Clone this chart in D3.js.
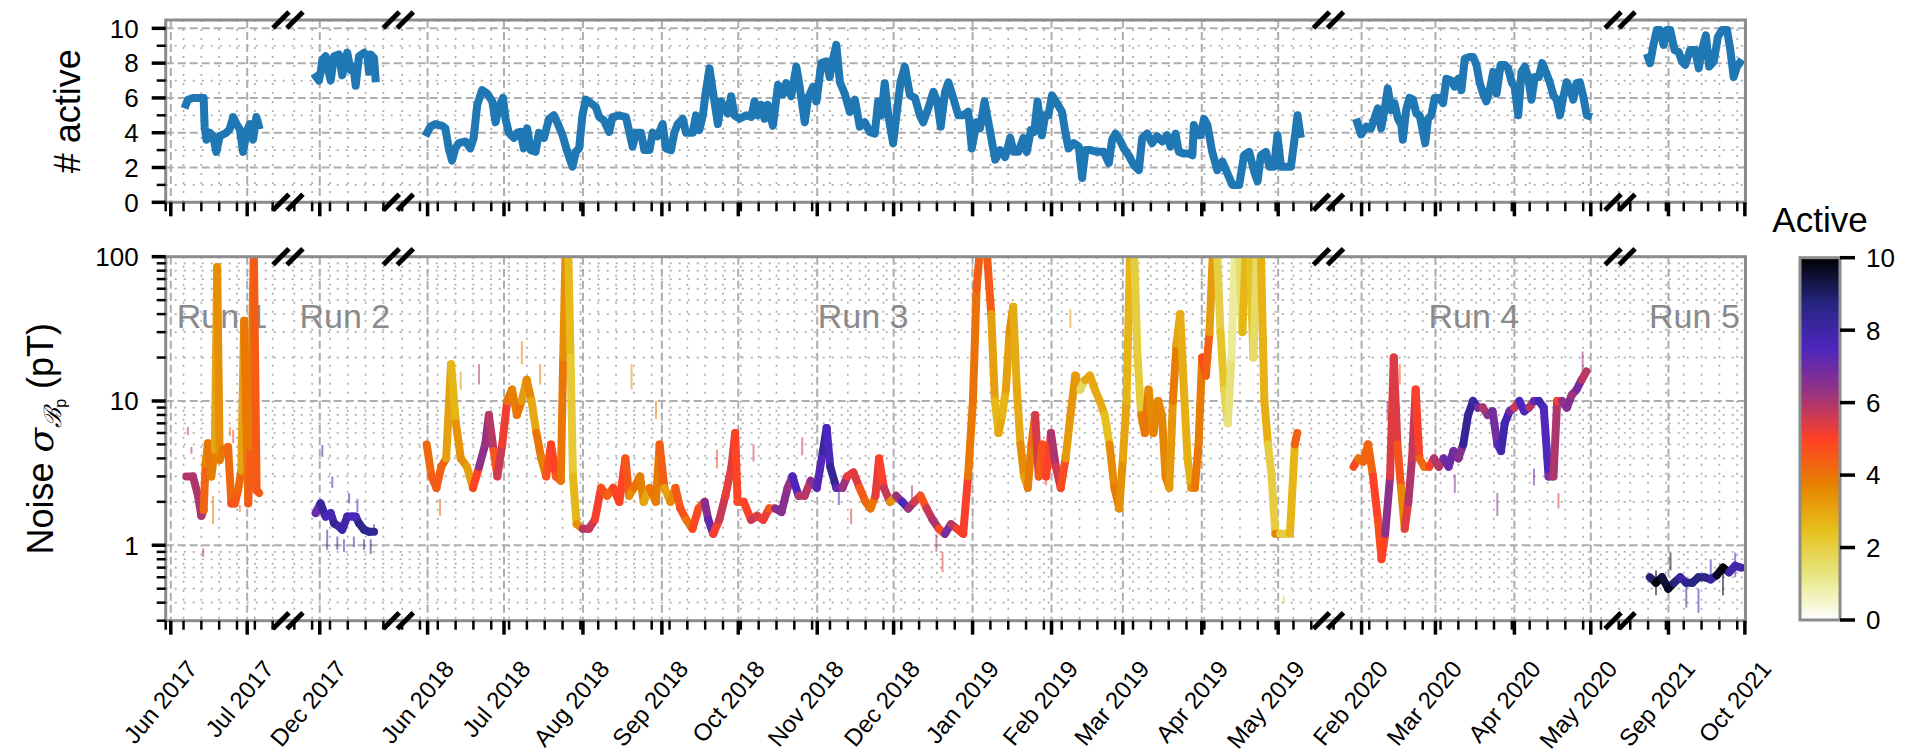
<!DOCTYPE html>
<html><head><meta charset="utf-8">
<script src="https://cdn.jsdelivr.net/npm/d3@7"></script>
<style>
body{margin:0;background:#fff;}
svg text{font-family:"Liberation Sans", Arial, sans-serif;fill:#000;}
</style></head><body>
<svg id="chart" width="1907" height="753"></svg>
<script>
// Measurement campaigns and the calendar window kept for each one on the broken time axis
const runNames = ["Run 1", "Run 2", "Run 3", "Run 4", "Run 5"];
const windowStart = ["2017-05-30T00:00", "2017-11-18T12:00", "2018-05-20T12:00", "2020-01-19T00:00", "2021-08-13T00:00"];
const windowEnd   = ["2017-07-17T00:00", "2017-12-31T20:00", "2019-05-20T18:00", "2020-05-12T12:00", "2021-10-01T06:00"];
// Day offsets in every series below are counted from these dates
const runRef = ["2017-06-01", "2017-12-01", "2018-06-01", "2020-02-01", "2021-09-01"];

// Number of active sensors: [days since run reference, count]
const activeRun1 = [[5.4,5.4],[6.7,5.9],[8.7,6.0],[11.3,6.0],[12.9,6.0],[13.3,4.3],[14.0,3.6],[15.3,4.0],[16.6,3.8],[17.9,2.9],[19.2,3.8],[20.5,3.9],[21.8,4.0],[23.1,4.2],[24.5,4.9],[25.8,4.5],[27.1,4.2],[28.4,2.9],[29.7,4.0],[31.0,4.5],[32.3,3.6],[33.6,4.9],[34.9,4.2]];
const activeRun2 = [[-2.3,7.4],[-1.3,7.2],[-0.3,7.0],[0.5,7.6],[1.0,8.2],[2.3,8.4],[3.3,7.6],[4.3,7.0],[5.6,8.4],[7.5,8.5],[8.8,7.3],[10.0,8.0],[10.8,8.6],[12.1,7.6],[13.2,7.8],[14.1,6.7],[15.4,8.4],[17.4,8.6],[18.7,8.4],[19.3,7.5],[20.0,8.5],[21.3,8.3],[22.0,6.9]];
const activeRun3 = [[-0.9,3.8],[1.1,4.35],[3.1,4.5],[5.7,4.4],[7.0,4.25],[8.3,3.1],[9.6,2.4],[10.9,3.1],[12.2,3.4],[14.9,3.5],[16.8,3.1],[18.1,3.7],[19.5,5.6],[21.4,6.45],[23.4,6.25],[25.4,5.8],[26.7,4.6],[28.0,5.5],[29.6,6.0],[30.6,4.8],[31.9,4.0],[33.9,3.7],[35.2,4.0],[36.5,4.05],[37.8,3.1],[39.1,4.25],[40.5,3.0],[42.4,2.9],[43.7,4.0],[45.7,3.7],[47.7,4.8],[49.6,5.0],[50.9,4.6],[52.9,3.9],[54.9,2.9],[56.9,2.05],[58.2,2.9],[59.5,3.1],[60.8,5.0],[62.1,5.9],[64.1,5.7],[66.0,5.5],[67.4,4.9],[69.3,4.7],[71.3,4.05],[72.6,4.9],[75.2,5.0],[77.9,4.9],[79.2,4.05],[80.5,3.2],[81.8,4.0],[83.8,4.0],[85.1,3.0],[87.1,3.0],[88.4,4.0],[90.3,3.8],[92.3,4.5],[93.6,3.1],[95.6,3.0],[96.9,4.0],[98.2,4.5],[100.2,4.8],[101.5,4.0],[104.1,4.0],[105.4,5.0],[106.7,4.15],[108.1,5.0],[109.1,6.2],[110.7,7.7],[112.0,6.4],[114.0,4.5],[115.3,5.8],[116.6,5.4],[117.9,5.1],[119.2,6.1],[120.5,5.0],[122.5,4.8],[125.1,5.0],[127.1,4.9],[128.4,5.8],[129.7,5.0],[131.0,5.6],[132.3,4.8],[133.6,5.6],[135.6,4.4],[137.6,6.75],[139.5,6.2],[140.8,6.85],[142.8,6.1],[144.8,7.8],[146.1,6.65],[148.1,4.6],[149.4,6.0],[151.4,6.65],[152.7,5.8],[154.6,8.0],[156.6,8.1],[157.9,7.2],[159.3,8.3],[160.5,9.05],[161.9,6.9],[163.8,6.25],[165.8,5.2],[167.8,5.9],[169.7,4.35],[171.7,4.6],[173.6,4.05],[175.6,3.95],[176.9,5.8],[178.2,5.0],[179.5,6.85],[180.9,5.0],[182.8,3.4],[184.1,5.0],[185.7,6.9],[187.4,7.8],[189.4,6.15],[191.4,6.0],[193.3,5.0],[194.6,4.6],[196.6,5.4],[198.6,6.35],[200.1,5.8],[201.5,4.35],[203.2,6.35],[204.5,6.9],[206.4,6.0],[208.4,5.0],[210.4,5.0],[212.3,5.2],[213.7,3.1],[215.6,4.6],[216.9,4.25],[218.7,5.8],[220.9,4.05],[222.9,2.45],[224.8,3.0],[226.8,2.6],[228.8,3.7],[230.1,2.9],[232.0,2.9],[234.0,3.7],[235.3,2.9],[236.9,4.15],[238.2,4.05],[239.5,5.8],[241.2,3.85],[242.5,5.0],[243.8,5.0],[245.2,6.15],[247.1,5.7],[249.1,5.2],[250.4,4.05],[251.7,3.1],[253.7,3.4],[255.7,3.2],[257.0,1.4],[258.3,3.0],[260.3,3.0],[262.9,2.9],[265.5,2.9],[267.5,2.25],[268.8,3.6],[270.1,3.95],[271.4,3.7],[273.4,3.1],[275.3,2.7],[277.3,2.15],[279.3,1.85],[280.6,3.7],[282.6,3.95],[284.5,3.4],[286.5,3.8],[288.5,3.5],[290.4,3.85],[291.7,3.2],[293.7,3.95],[295.0,2.9],[297.0,2.8],[299.0,2.8],[300.3,2.7],[300.9,4.45],[302.2,3.85],[303.6,3.85],[304.9,4.8],[306.2,4.45],[308.1,2.9],[310.1,1.85],[312.1,2.35],[314.1,1.65],[316.0,1.0],[318.7,1.0],[320.6,2.7],[322.6,2.9],[324.6,1.75],[325.9,1.2],[327.2,2.7],[329.2,2.9],[330.5,2.05],[332.4,2.05],[333.7,3.85],[335.1,2.05],[336.4,2.05],[339.0,2.05],[340.3,3.5],[341.6,5.0],[342.9,3.7]];
const activeRun4 = [[-2.2,4.8],[-0.2,3.9],[1.8,4.35],[3.7,4.25],[5.0,4.8],[6.4,5.4],[7.7,4.25],[9.0,5.3],[10.3,6.55],[11.6,5.3],[12.9,5.7],[14.3,4.8],[15.6,4.45],[16.2,3.6],[17.5,5.3],[18.8,6.0],[20.2,5.9],[21.5,5.1],[22.8,5.0],[24.1,4.05],[25.0,3.4],[26.1,4.8],[27.4,5.0],[28.7,6.0],[30.6,6.0],[32.0,5.7],[33.3,7.1],[35.2,7.0],[36.5,6.65],[37.9,7.1],[39.2,6.45],[40.5,8.25],[42.4,8.35],[43.8,8.35],[45.1,7.9],[46.4,6.85],[47.7,6.25],[49.0,5.8],[50.3,6.45],[51.7,7.5],[53.0,6.25],[54.6,7.9],[56.2,7.9],[57.5,7.7],[59.1,6.85],[60.1,6.65],[61.5,5.0],[62.8,7.5],[64.1,7.8],[65.4,7.2],[66.7,5.9],[68.0,7.2],[69.6,7.2],[70.9,8.0],[72.6,7.4],[73.9,6.9],[75.3,6.15],[76.6,5.9],[77.9,5.0],[79.2,6.05],[80.5,6.9],[81.8,6.55],[83.1,5.9],[84.4,6.85],[85.7,6.9],[87.1,6.05],[88.4,5.0],[90.4,4.9]];
const activeRun5 = [[-8.5,8.55],[-7.2,8.0],[-5.9,9.05],[-4.6,9.9],[-3.3,9.9],[-1.9,9.05],[-0.6,9.9],[0.7,9.9],[2.4,8.75],[4.0,8.65],[5.3,8.1],[6.6,7.9],[8.5,8.75],[10.5,8.75],[11.9,7.7],[13.1,8.75],[14.7,9.6],[16.0,7.8],[17.8,8.1],[19.4,9.5],[21.0,9.9],[23.0,9.9],[24.3,8.75],[25.6,7.2],[26.9,7.8],[28.9,8.2]];

// Smoothed noise level in pT: [days since run reference, value]
const noiseRun1 = [[6.1,3.0],[8.7,3.0],[10.7,2.2],[12.0,1.6],[12.9,1.75],[13.7,3.7],[14.6,5.1],[15.9,3.0],[17.3,4.6],[18.2,85],[19.2,3.9],[20.5,4.6],[22.5,4.8],[23.8,1.95],[25.1,1.95],[26.4,2.4],[27.7,3.3],[28.8,36],[30.4,1.95],[31.3,4.8],[32.6,120],[33.7,2.4],[34.7,2.3]];
const noiseRun2 = [[-1.65,1.67],[0.3,1.95],[2.3,1.58],[4.3,1.67],[5.6,1.42],[7.5,1.35],[8.8,1.28],[10.8,1.58],[12.8,1.58],[14.1,1.58],[15.4,1.42],[17.4,1.28],[19.4,1.24],[21.3,1.24]];
const noiseRun3 = [[-0.36,5],[1.55,3],[3.47,2.5],[5.38,3.5],[7.3,4],[9.21,18],[11.13,7],[13.04,4],[15.44,3.5],[17.83,2.5],[20.23,3.5],[22.62,5],[24.06,8],[25.97,4.5],[27.41,3],[29.32,5],[31.24,10],[33.15,12],[35.07,8],[36.98,10],[38.9,14],[40.81,10],[42.73,6],[44.64,4],[46.56,3],[48.48,5],[50.39,3],[52.31,2.8],[53.26,20],[54.22,120],[55.18,120],[56.14,20],[57.09,3],[58.53,1.4],[60.92,1.3],[63.32,1.3],[65.71,1.5],[68.11,2.5],[70.5,2.2],[72.89,2.5],[75.29,2],[77.68,4],[79.12,2.2],[81.03,2.5],[83.43,3],[84.86,2],[87.26,2.5],[89.65,2],[91.09,5],[93.0,2.5],[95.4,2],[97.31,2.5],[99.23,1.8],[101.62,1.5],[104.02,1.3],[106.41,1.8],[108.8,2],[110.24,1.5],[112.16,1.2],[114.55,1.5],[116.94,2.2],[119.34,3.5],[120.77,6],[121.73,2],[124.13,2],[127.0,1.5],[129.39,1.6],[131.79,1.5],[134.18,1.8],[136.57,1.8],[138.97,1.7],[141.36,2.5],[143.28,3],[145.67,2.2],[148.07,2.2],[150.46,2.8],[152.85,2.5],[155.25,4.5],[156.68,6.5],[158.12,3.5],[160.51,2.5],[162.91,2.5],[164.82,3],[167.22,3.2],[169.61,2.5],[172.01,2],[173.92,1.8],[175.84,2.2],[177.27,4],[179.19,2.5],[181.58,2],[183.98,2.2],[186.37,2],[188.76,1.8],[191.16,2],[193.55,2.2],[195.95,1.8],[198.34,1.5],[200.73,1.3],[203.13,1.2],[205.52,1.4],[207.92,1.3],[210.31,1.2],[212.22,3],[214.14,10],[215.58,60],[217.01,120],[219.41,120],[221.32,40],[222.76,10],[224.19,6],[225.63,8],[227.07,12],[228.5,30],[229.94,45],[231.38,12],[232.81,5],[234.25,3],[235.69,2.5],[237.12,5],[238.56,8],[240.0,3],[241.43,5],[242.87,3],[244.78,6],[246.7,3.5],[248.61,2.5],[250.53,4],[252.44,8],[254.36,15],[256.27,12],[258.19,14],[260.1,15],[262.02,12],[263.94,10],[265.85,8],[267.77,5],[269.68,2.5],[271.6,1.8],[273.03,4],[274.47,10],[275.91,120],[277.34,120],[278.78,20],[280.21,8],[281.65,6],[283.09,12],[285.0,6],[286.92,10],[288.35,8],[289.79,3],[291.23,2.5],[292.66,10],[294.1,25],[295.54,40],[296.97,12],[298.41,4],[299.85,2.5],[301.28,2.5],[302.72,5],[304.15,20],[305.59,15],[307.03,30],[308.46,120],[309.9,120],[311.34,30],[312.77,12],[314.21,7],[315.65,20],[317.08,120],[318.52,120],[319.95,30],[321.39,120],[322.83,120],[324.26,20],[325.7,120],[327.14,120],[328.57,10],[330.01,5],[331.45,3],[332.88,1.2],[334.8,1.2],[336.71,1.2],[338.63,1.2],[340.54,5],[341.5,6]];
const noiseRun4 = [[-3.17,3.5],[-1.26,4],[0.66,3.8],[2.57,5],[4.49,3],[6.4,1.5],[7.84,0.8],[9.27,1.2],[11.19,3],[12.63,20],[14.06,5],[15.5,2.5],[16.94,1.3],[18.37,2],[19.81,4],[21.24,12],[22.68,4],[24.6,3.5],[26.51,3.5],[28.43,4],[30.34,3.5],[32.26,4],[34.17,3.5],[36.09,4.5],[38.0,4],[39.92,5],[41.83,8],[43.75,10],[45.66,9],[47.58,9],[49.49,8],[51.41,8.5],[53.32,5],[54.76,4.5],[56.2,7],[58.11,8.5],[60.03,9],[61.94,10],[63.86,8.5],[65.77,9],[67.69,10],[69.6,10],[71.52,9],[73.43,3],[75.35,3],[76.79,10],[78.7,10],[80.62,9],[82.53,11],[84.45,12],[86.36,14],[88.28,16]];
const noiseRun5 = [[-7.33,0.6],[-4.9,0.55],[-2.5,0.6],[-0.1,0.5],[2.2,0.55],[4.6,0.6],[7.0,0.55],[9.4,0.55],[11.8,0.6],[14.2,0.6],[16.6,0.58],[19.0,0.62],[21.4,0.7],[23.8,0.65],[26.2,0.72],[28.6,0.7]];

// Individual readings that scatter away from the smoothed level: [days, low pT, high pT]
const spreadRun1 = [[6.7,5.8,6.6],[8.1,4.3,4.8],[12.7,0.83,0.95],[16.6,1.4,2.2],[23.2,5.7,6.6],[24.5,5.1,6.3],[27.1,1.7,1.9]];
const spreadRun2 = [[1.0,4.1,4.95],[4.9,2.5,3.0],[2.9,0.93,1.28],[6.9,0.93,1.15],[9.5,0.9,1.1],[11.5,1.95,2.3],[13.4,0.97,1.15],[14.8,1.7,2.1],[17.4,0.93,1.1],[20.0,0.87,1.1],[21.3,1.2,1.4]];
const spreadRun3 = [[4.9,1.6,2.1],[13.0,12,16],[20.2,13,18],[34.6,7.5,10],[37.0,18,26],[44.2,13,18],[80.1,12,18],[89.7,7.5,10],[113.6,3.4,4.6],[128.0,3.8,5],[147.1,4.2,5.6],[161.5,1.9,2.6],[166.3,1.4,1.8],[190.2,2.1,2.6],[199.8,0.9,1.2],[202.2,0.65,0.9],[242.9,2.6,3.8],[252.4,32,43],[314.7,12,18],[336.2,0.4,0.45]];
const spreadRun4 = [[10.2,7.5,10],[15.0,13,18],[36.6,2.3,3.1],[53.3,1.6,2.3],[67.7,2.6,3.4],[77.3,1.8,2.3],[86.8,16,22]];
const spreadRun5 = [[-4.9,0.45,0.67],[0.8,0.67,0.89],[7.0,0.37,0.55],[11.8,0.34,0.5],[16.6,0.55,0.8],[21.4,0.45,0.67],[26.2,0.6,0.89]];

const activeTicks = [0, 2, 4, 6, 8, 10];
const activeMinorTicks = [1, 3, 5, 7, 9];
const noiseTicks = [1, 10, 100];
const colorbarTicks = [0, 2, 4, 6, 8, 10];

const activeRuns = [activeRun1, activeRun2, activeRun3, activeRun4, activeRun5];
const noiseRuns = [noiseRun1, noiseRun2, noiseRun3, noiseRun4, noiseRun5];
const spreadRuns = [spreadRun1, spreadRun2, spreadRun3, spreadRun4, spreadRun5];

// ---------- layout ----------
const svg = d3.select("#chart");
const L = 165.7, R = 1745.5;
const top1 = 20, bot1 = 202.3;
const top2 = 256.7, bot2 = 620.7;
const spine = "#8c8c8c", gridCol = "#adadad";

const parse = d3.isoParse;
const starts = windowStart.map(parse), ends = windowEnd.map(parse);
const spans = starts.map((s, i) => ends[i] - s);
const total = d3.sum(spans);
const dom = [], rng = [];
let acc = L;
starts.forEach((s, i) => {
  dom.push(s, ends[i]);
  const w = (R - L) * spans[i] / total;
  rng.push(acc, acc + w);
  acc += w;
});
const x = d3.scaleTime().domain(dom).range(rng);
const breaks = [1, 3, 5, 7].map(k => rng[k]);

const yA = d3.scaleLinear().domain([0, 10.48]).range([bot1, top1]);
const yN = d3.scaleLog().domain([0.3, 100]).range([bot2, top2]);

// CMRmap, reversed so that 0 is pale and 10 is black
const cmr = [[0,0,0],[0.15,0.15,0.5],[0.3,0.15,0.75],[0.6,0.2,0.5],[1,0.25,0.15],[0.9,0.5,0],[0.9,0.75,0.1],[0.9,0.9,0.5],[1,1,1]];
const color = d3.scaleLinear()
  .domain(d3.range(cmr.length).map(i => 10 - i * 10 / (cmr.length - 1)))
  .range(cmr.map(c => d3.rgb(c[0]*255, c[1]*255, c[2]*255).toString()))
  .interpolate(d3.interpolateRgb).clamp(true);

// ticks per window
const monthTicks = [], weekTicks = [];
starts.forEach((s, i) => {
  monthTicks.push(...d3.timeMonth.range(d3.timeMonth.ceil(s), new Date(+ends[i] + 1)));
  weekTicks.push(...d3.timeTuesday.range(s, ends[i]));
});

const toDate = (ref, d) => new Date(+parse(ref) + d * 864e5);

// ---------- panels ----------
const defs = svg.append("defs");
function panel(id, y0, y1, yMaj, yMin) {
  defs.append("clipPath").attr("id", id).append("rect")
    .attr("x", L).attr("y", y0).attr("width", R - L).attr("height", y1 - y0);
  const g = svg.append("g");
  const grid = g.append("g").attr("clip-path", `url(#${id})`);
  grid.selectAll(".vmin").data(weekTicks).join("line")
    .attr("x1", d => x(d)).attr("x2", d => x(d)).attr("y1", y0).attr("y2", y1)
    .attr("stroke", gridCol).attr("stroke-width", 1.7).attr("stroke-dasharray", "2,7");
  grid.selectAll(".hmin").data(yMin).join("line")
    .attr("x1", L).attr("x2", R).attr("y1", d => d).attr("y2", d => d)
    .attr("stroke", gridCol).attr("stroke-width", 1.7).attr("stroke-dasharray", "2,7");
  grid.selectAll(".vmaj").data(monthTicks).join("line")
    .attr("x1", d => x(d)).attr("x2", d => x(d)).attr("y1", y0).attr("y2", y1)
    .attr("stroke", gridCol).attr("stroke-width", 2).attr("stroke-dasharray", "8,4");
  grid.selectAll(".hmaj").data(yMaj).join("line")
    .attr("x1", L).attr("x2", R).attr("y1", d => d).attr("y2", d => d)
    .attr("stroke", gridCol).attr("stroke-width", 2).attr("stroke-dasharray", "8,4");
  return g;
}

function frame(y0, y1) {
  svg.append("rect").attr("x", L).attr("y", y0).attr("width", R - L).attr("height", y1 - y0)
    .attr("fill", "none").attr("stroke", spine).attr("stroke-width", 3);
  svg.append("g").selectAll("line").data(weekTicks).join("line")
    .attr("x1", d => x(d)).attr("x2", d => x(d)).attr("y1", y1).attr("y2", y1 + 9)
    .attr("stroke", "#000").attr("stroke-width", 2.5);
  svg.append("g").selectAll("line").data(monthTicks).join("line")
    .attr("x1", d => x(d)).attr("x2", d => x(d)).attr("y1", y1).attr("y2", y1 + 14)
    .attr("stroke", "#000").attr("stroke-width", 3.5);
  breaks.forEach(bx => {
    [y0, y1].forEach(yy => {
      [-7, 7].forEach(off => {
        svg.append("line")
          .attr("x1", bx + off - 8).attr("y1", yy + 8).attr("x2", bx + off + 8).attr("y2", yy - 8)
          .attr("stroke", "#000").attr("stroke-width", 5);
      });
    });
  });
}

// ---- top panel: number of active sensors ----
const gA = panel("clipA", top1, bot1, activeTicks.map(yA), activeMinorTicks.map(yA));
const lineA = d3.line().x(d => x(d[0])).y(d => yA(d[1]));
activeRuns.forEach((run, i) => {
  const pts = run.map(p => [toDate(runRef[i], p[0]), p[1]]);
  gA.append("path").datum(pts).attr("d", lineA).attr("clip-path", "url(#clipA)")
    .attr("fill", "none").attr("stroke", "#1f77b4").attr("stroke-width", 8)
    .attr("stroke-linejoin", "round");
});
frame(top1, bot1);
const axA = svg.append("g");
axA.selectAll("line.maj").data(activeTicks).join("line")
  .attr("x1", L - 14).attr("x2", L).attr("y1", d => yA(d)).attr("y2", d => yA(d))
  .attr("stroke", "#000").attr("stroke-width", 3.5);
axA.selectAll("line.min").data(activeMinorTicks).join("line")
  .attr("x1", L - 9).attr("x2", L).attr("y1", d => yA(d)).attr("y2", d => yA(d))
  .attr("stroke", "#000").attr("stroke-width", 2.5);
axA.selectAll("text").data(activeTicks).join("text")
  .attr("x", L - 27).attr("y", d => yA(d)).attr("dy", "0.36em")
  .attr("text-anchor", "end").attr("font-size", 26).text(d => d);
svg.append("text").attr("transform", `translate(80,${(top1 + bot1) / 2}) rotate(-90)`)
  .attr("text-anchor", "middle").attr("font-size", 36).text("# active");

// ---- bottom panel: noise ----
const nMaj = noiseTicks, nMin = [];
[0.1, 1, 10].forEach(dec => d3.range(2, 10).forEach(k => { const v = dec * k; if (v >= 0.3 && v < 100) nMin.push(v); }));
const gN = panel("clipN", top2, bot2, nMaj.map(yN), nMin.map(yN));

// each run name sits over the middle of that run's data
runNames.forEach((name, i) => {
  const run = activeRuns[i];
  const cx = (x(toDate(runRef[i], run[0][0])) + x(toDate(runRef[i], run[run.length - 1][0]))) / 2;
  gN.append("text").attr("x", cx).attr("y", 328)
    .attr("text-anchor", "middle").attr("font-size", 34).style("fill", "#8a8a8a").text(name);
});

const activeAt = (i, d) => {
  const run = activeRuns[i];
  if (d <= run[0][0]) return run[0][1];
  if (d >= run[run.length - 1][0]) return run[run.length - 1][1];
  const j = d3.bisector(p => p[0]).right(run, d);
  const a = run[j - 1], b = run[j];
  return a[1] + (b[1] - a[1]) * (d - a[0]) / (b[0] - a[0]);
};

const gLines = gN.append("g").attr("clip-path", "url(#clipN)");
spreadRuns.forEach((run, i) => {
  gLines.append("g").selectAll("line").data(run).join("line")
    .attr("x1", d => x(toDate(runRef[i], d[0]))).attr("x2", d => x(toDate(runRef[i], d[0])))
    .attr("y1", d => yN(d[1])).attr("y2", d => yN(d[2]))
    .attr("stroke", d => color(activeAt(i, d[0]))).attr("stroke-width", 2).attr("opacity", 0.55);
});
noiseRuns.forEach((run, i) => {
  for (let k = 0; k < run.length - 1; k++) {
    const a = run[k], b = run[k + 1];
    gLines.append("line")
      .attr("x1", x(toDate(runRef[i], a[0]))).attr("y1", yN(a[1]))
      .attr("x2", x(toDate(runRef[i], b[0]))).attr("y2", yN(b[1]))
      .attr("stroke", color(activeAt(i, (a[0] + b[0]) / 2)))
      .attr("stroke-width", 8).attr("stroke-linecap", "round");
  }
});
frame(top2, bot2);

const axN = svg.append("g");
axN.selectAll("line.maj").data(nMaj).join("line")
  .attr("x1", L - 14).attr("x2", L).attr("y1", d => yN(d)).attr("y2", d => yN(d))
  .attr("stroke", "#000").attr("stroke-width", 3.5);
axN.selectAll("line.min").data(nMin).join("line")
  .attr("x1", L - 9).attr("x2", L).attr("y1", d => yN(d)).attr("y2", d => yN(d))
  .attr("stroke", "#000").attr("stroke-width", 2.5);
axN.selectAll("text").data(nMaj).join("text")
  .attr("x", L - 27).attr("y", d => yN(d)).attr("dy", "0.36em")
  .attr("text-anchor", "end").attr("font-size", 26).text(d => d);

const ylab = svg.append("text").attr("transform", `translate(53,${(top2 + bot2) / 2}) rotate(-90)`)
  .attr("text-anchor", "middle").attr("font-size", 36);
ylab.append("tspan").text("Noise ");
ylab.append("tspan").attr("font-style", "italic").attr("font-family", "DejaVu Serif").text("σ");
ylab.append("tspan").attr("font-size", 24).attr("dy", 8).attr("font-family", "DejaVu Serif").attr("font-style", "italic").text("ℬ");
ylab.append("tspan").attr("font-size", 16).attr("dy", 5).text("p");
ylab.append("tspan").attr("dy", -13).text(" (pT)");

// month labels
const fmt = d3.timeFormat("%b %Y");
svg.append("g").selectAll("text").data(monthTicks).join("text")
  .attr("transform", d => `translate(${x(d) + 14},658) rotate(-50)`)
  .attr("text-anchor", "end").attr("dy", "0.75em").attr("font-size", 24)
  .text(d => fmt(d));

// ---- colorbar ----
const cbX = 1800, cbW = 40, cbTop = 257.7, cbBot = 620;
const yC = d3.scaleLinear().domain([0, 10]).range([cbBot, cbTop]);
const grad = defs.append("linearGradient").attr("id", "cbGrad")
  .attr("x1", 0).attr("y1", 1).attr("x2", 0).attr("y2", 0);
d3.range(0, 10.01, 0.25).forEach(v => grad.append("stop").attr("offset", v / 10).attr("stop-color", color(v)));
svg.append("rect").attr("x", cbX).attr("y", cbTop).attr("width", cbW).attr("height", cbBot - cbTop)
  .attr("fill", "url(#cbGrad)").attr("stroke", spine).attr("stroke-width", 3);
const axC = svg.append("g");
axC.selectAll("line").data(colorbarTicks).join("line")
  .attr("x1", cbX + cbW).attr("x2", cbX + cbW + 15).attr("y1", d => yC(d)).attr("y2", d => yC(d))
  .attr("stroke", "#000").attr("stroke-width", 3.5);
axC.selectAll("text").data(colorbarTicks).join("text")
  .attr("x", cbX + cbW + 26).attr("y", d => yC(d)).attr("dy", "0.36em")
  .attr("font-size", 26).text(d => d);
svg.append("text").attr("x", cbX + cbW / 2).attr("y", 232).attr("text-anchor", "middle")
  .attr("font-size", 35).text("Active");
</script>
</body></html>
